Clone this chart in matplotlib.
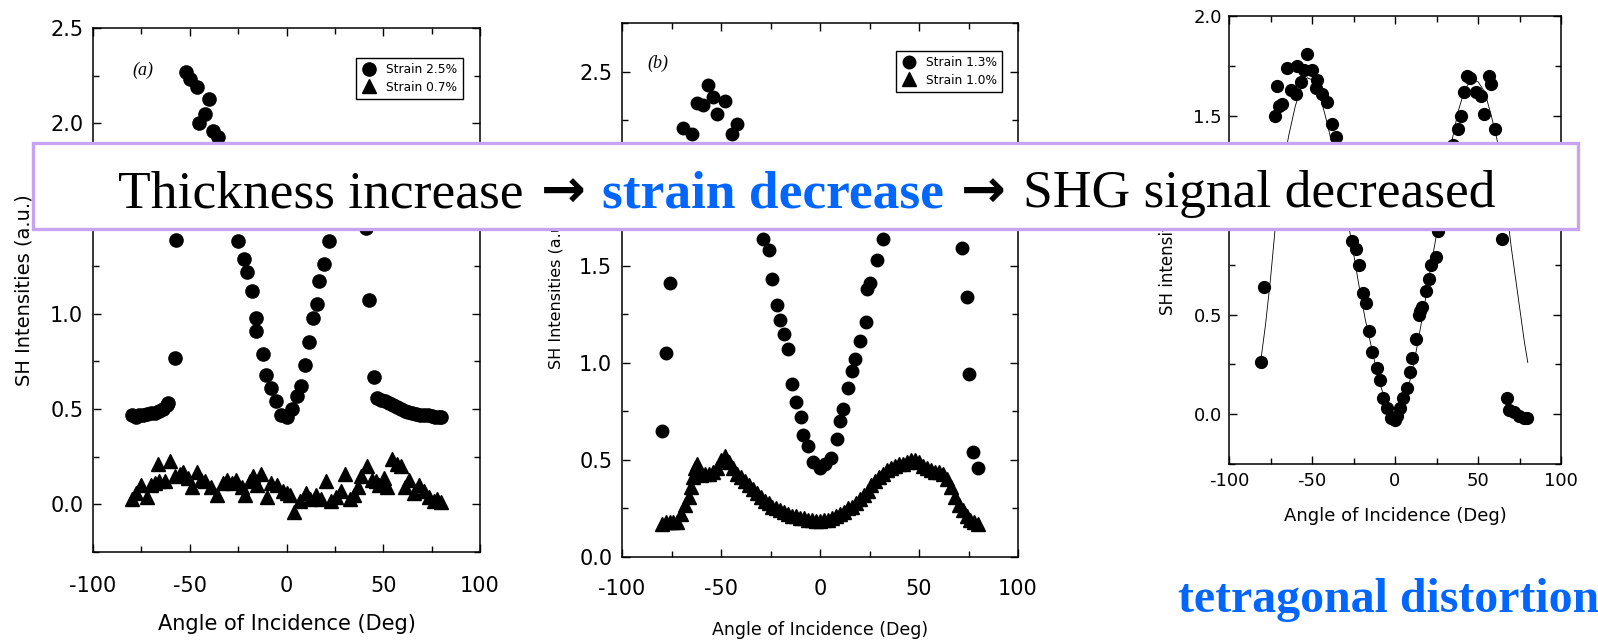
import matplotlib.pyplot as plt
from matplotlib.patches import Rectangle
from matplotlib.ticker import MultipleLocator

plt.rcParams['axes.unicode_minus'] = False

# ---- panel (a): strain 2.5% / 0.7% ----
a_hi_x = [-80, -78, -76, -74, -72, -70, -68, -66, -64, -62, -61, -57.7, -57,
          -52, -50, -46.4, -45, -42, -40, -38, -35.5, -33, -30, -28,
          -25, -22, -20.6, -18, -16, -15.6, -12.3, -10.4, -7.9, -5.3, -2.7, 0,
          3, 5.5, 7.6, 9.8, 11.5, 13.5, 16, 17, 19.6, 21.8, 24, 26,
          41, 42.8, 45.4, 47, 49, 51, 53, 55, 57, 59, 61, 63, 65, 67, 69, 71,
          73, 75, 77, 79, 80]
a_hi_y = [0.47, 0.46, 0.47, 0.47, 0.475, 0.48, 0.48, 0.49, 0.50, 0.52, 0.53, 0.77, 1.39,
          2.27, 2.23, 2.19, 2.00, 2.05, 2.13, 1.96, 1.93, 1.80, 1.65, 1.52,
          1.38, 1.29, 1.22, 1.12, 0.98, 0.91, 0.79, 0.68, 0.61, 0.54, 0.47, 0.46,
          0.50, 0.57, 0.62, 0.73, 0.85, 0.98, 1.05, 1.17, 1.26, 1.38, 1.52, 1.65,
          1.45, 1.07, 0.67, 0.56, 0.55, 0.54, 0.53, 0.52, 0.51, 0.50, 0.49, 0.485, 0.48, 0.475, 0.47, 0.47,
          0.47, 0.465, 0.46, 0.46, 0.46]

a_lo_x = [-80, -78, -75, -72, -70, -68, -66.5, -66, -63, -60, -57.7, -55, -53.6, -51,
          -49, -46.4, -44, -42, -39, -36, -33, -31, -28, -26, -23, -21.6, -19, -17.5,
          -15, -13, -10.3, -8, -5, -2, 0, 2, 4, 7, 10, 12, 15, 18, 20.6, 23, 25.8, 28,
          30, 33, 35, 37, 38.6, 41.7, 44, 46.4, 48, 50.5, 52, 54.6, 57, 59, 61, 63.4,
          66, 68.6, 71, 73.7, 76, 78, 80]
a_lo_y = [0.03, 0.06, 0.10, 0.04, 0.10, 0.11, 0.21, 0.12, 0.12, 0.23, 0.15, 0.16, 0.17, 0.14,
          0.09, 0.17, 0.13, 0.12, 0.09, 0.05, 0.11, 0.13, 0.11, 0.13, 0.09, 0.05, 0.12, 0.15,
          0.10, 0.16, 0.04, 0.11, 0.10, 0.07, 0.06, 0.05, -0.04, 0.02, 0.06, 0.03, 0.05, 0.03, 0.12, 0.02, 0.04, 0.07,
          0.16, 0.03, 0.05, 0.09, 0.15, 0.20, 0.13, 0.12, 0.10, 0.14, 0.09, 0.24, 0.21, 0.20, 0.09, 0.13,
          0.06, 0.10, 0.07, 0.04, 0.02, 0.03, 0.01]

# ---- panel (b): strain 1.3% / 1.0% ----
b_hi_x = [-80, -78, -76, -69, -64.6, -62, -59, -56.5, -54, -52, -48, -44.6, -42,
          -38, -34, -31, -28.8, -26, -24, -21.7, -20, -18, -16, -14.3, -12, -9.6,
          -8.6, -6, -3.5, 0, 2.5, 5.5, 8.6, 10, 11.6, 14, 16, 17.7, 20, 23, 23.6,
          25, 29, 32, 35, 38, 71.7, 74, 75.4, 77.4, 80]
b_hi_y = [0.65, 1.05, 1.41, 2.21, 2.18, 2.34, 2.33, 2.43, 2.37, 2.28, 2.35, 2.18, 2.23,
          2.05, 1.90, 1.75, 1.64, 1.58, 1.43, 1.30, 1.22, 1.15, 1.07, 0.89, 0.80, 0.72,
          0.63, 0.57, 0.49, 0.46, 0.48, 0.51, 0.61, 0.70, 0.76, 0.87, 0.96, 1.02, 1.11, 1.21, 1.38,
          1.41, 1.53, 1.64, 1.80, 1.90, 1.59, 1.34, 0.94, 0.54, 0.46]

b_lo_x = [-80, -78, -76, -74, -72, -70, -68, -66, -65, -64, -63, -62, -61, -60, -58,
          -56, -54, -52, -50, -48, -46, -44, -42, -40, -38, -36, -34, -32, -30, -28,
          -26, -24, -22, -20, -18, -16, -14, -12, -10, -8, -6, -4, -2, 0, 2, 4, 6, 8,
          10, 12, 14, 16, 18, 20, 22, 24, 26, 28, 30, 32, 34, 36, 38, 40, 42, 44, 46,
          48, 50, 52, 54, 56, 58, 60, 62, 64, 66, 68, 70, 72, 74, 76, 78, 80]
b_lo_y = [0.17, 0.18, 0.18, 0.18, 0.18, 0.22, 0.27, 0.31, 0.36, 0.41, 0.46, 0.48, 0.44, 0.42, 0.43,
          0.43, 0.44, 0.46, 0.50, 0.52, 0.49, 0.46, 0.43, 0.41, 0.39, 0.37, 0.35, 0.33, 0.31, 0.29,
          0.28, 0.26, 0.25, 0.24, 0.23, 0.22, 0.21, 0.21, 0.20, 0.20, 0.19, 0.19, 0.185, 0.185, 0.19, 0.19, 0.20, 0.21,
          0.22, 0.23, 0.25, 0.26, 0.28, 0.30, 0.32, 0.34, 0.37, 0.39, 0.41, 0.43, 0.45, 0.46, 0.47, 0.48, 0.48, 0.49, 0.50,
          0.50, 0.49, 0.47, 0.46, 0.45, 0.44, 0.44, 0.43, 0.40, 0.36, 0.31, 0.27, 0.24, 0.21, 0.19, 0.18, 0.17]

# ---- panel (c): measured points and fitted curve ----
c_x = [-80.7, -79, -72, -71, -70, -68, -65, -62.7, -59.6, -59, -56.6, -55, -53, -50,
       -47.6, -47, -44, -41, -38, -35.5, -32, -29, -26, -23.5, -21.7, -19, -17.5,
       -15.7, -13.8, -10.8, -9, -7.2, -4.8, -2.4, 0, 1.2, 3, 4.8, 7.2, 9, 10.2, 12.6,
       14.4, 15, 16, 18.7, 20.5, 21.7, 24.7, 26, 29, 32, 35, 38, 39.8, 41.5, 43.4, 45,
       48.8, 51.8, 53.6, 56.6, 58, 60, 62, 64.5, 67.5, 68.7, 71.7, 74.7, 77.7, 79.5]
c_y = [0.26, 0.64, 1.50, 1.65, 1.55, 1.56, 1.74, 1.63, 1.61, 1.75, 1.67, 1.73, 1.81, 1.73,
       1.64, 1.68, 1.61, 1.57, 1.46, 1.39, 1.20, 1.00, 0.87, 0.83, 0.75, 0.61, 0.56,
       0.42, 0.31, 0.23, 0.17, 0.08, 0.03, -0.02, -0.03, -0.01, 0.03, 0.08, 0.13, 0.21, 0.28, 0.38,
       0.50, 0.52, 0.54, 0.62, 0.68, 0.75, 0.79, 0.92, 1.10, 1.25, 1.35, 1.43, 1.50, 1.62, 1.70, 1.69,
       1.62, 1.60, 1.51, 1.70, 1.66, 1.43, 1.20, 0.88, 0.08, 0.02, 0.01, -0.01, -0.02, -0.02]

fit_x = [-81, -78, -75, -72, -68, -64, -60, -56, -53, -50, -46, -42, -38, -34, -30, -26,
         -22, -18, -14, -10, -6, -3, 0, 3, 6, 10, 14, 18, 22, 26, 30, 34, 38, 42, 46,
         50, 54, 58, 62, 66, 70, 74, 78, 80]
fit_y = [0.26, 0.45, 0.68, 0.95, 1.22, 1.40, 1.55, 1.65, 1.69, 1.68, 1.62, 1.50, 1.36, 1.20, 1.04, 0.86,
         0.66, 0.48, 0.33, 0.18, 0.07, 0.02, 0.0, 0.02, 0.08, 0.20, 0.37, 0.56, 0.76, 0.95, 1.15, 1.36, 1.52, 1.63, 1.68,
         1.67, 1.62, 1.50, 1.36, 1.12, 0.84, 0.60, 0.36, 0.26]

BLUE = '#0066ff'
W, H = 1598, 642

fig = plt.figure(figsize=(W / 100, H / 100), dpi=100)


def style_axes(ax, tick_fs, xpad, ypad):
    for s in ax.spines.values():
        s.set_linewidth(1.1)
    ax.xaxis.set_major_locator(MultipleLocator(50))
    ax.xaxis.set_minor_locator(MultipleLocator(25))
    ax.yaxis.set_major_locator(MultipleLocator(0.5))
    ax.yaxis.set_minor_locator(MultipleLocator(0.25))
    ax.tick_params(which='both', direction='in', top=True, right=True, width=1.0)
    ax.tick_params(which='major', length=6)
    ax.tick_params(which='minor', length=4)
    ax.tick_params(axis='x', which='major', labelsize=tick_fs, pad=xpad)
    ax.tick_params(axis='y', which='major', labelsize=tick_fs, pad=ypad)
    ax.yaxis.set_major_formatter(plt.FuncFormatter(lambda v, p: f'{v:.1f}'))
    ax.set_xlim(-100, 100)


def legend(ax, labels, anchor):
    lg = ax.legend(labels, loc='upper right', bbox_to_anchor=anchor, borderaxespad=0,
                   fancybox=False, edgecolor='black', framealpha=1, fontsize=8.8,
                   handletextpad=0.8, borderpad=0.45, labelspacing=0.35, handlelength=1.2)
    lg.get_frame().set_linewidth(1.0)


# (a)
ax1 = fig.add_axes([93 / W, 1 - 552 / H, 387 / W, 524 / H])
ax1.plot(a_hi_x, a_hi_y, 'o', color='black', ms=9.5)
ax1.plot(a_lo_x, a_lo_y, '^', color='black', ms=10)
style_axes(ax1, 15, 17, 7)
ax1.set_ylim(-0.25, 2.5)
ax1.set_xlabel('Angle of Incidence (Deg)', fontsize=15, labelpad=13)
ax1.set_ylabel('SH Intensities (a.u.)', fontsize=14, labelpad=12)
ax1.text(0.13, 0.92, '(a)', transform=ax1.transAxes, fontsize=13, style='italic',
         family='Liberation Serif', ha='center', va='center')
legend(ax1, ['Strain 2.5%', 'Strain 0.7%'], (0.956, 0.943))

# (b)
ax2 = fig.add_axes([622 / W, 1 - 557 / H, 396 / W, 534 / H])
ax2.plot(b_hi_x, b_hi_y, 'o', color='black', ms=9)
ax2.plot(b_lo_x, b_lo_y, '^', color='black', ms=10)
style_axes(ax2, 15, 16, 7)
ax2.set_ylim(0, 2.75)
ax2.set_xlabel('Angle of Incidence (Deg)', fontsize=12.5, labelpad=16)
ax2.set_ylabel('SH Intensities (a.u.)', fontsize=11.5, labelpad=11)
ax2.text(0.09, 0.925, '(b)', transform=ax2.transAxes, fontsize=13, style='italic',
         family='Liberation Serif', ha='center', va='center')
legend(ax2, ['Strain 1.3%', 'Strain 1.0%'], (0.96, 0.948))

# (c)
ax3 = fig.add_axes([1229 / W, 1 - 464 / H, 332 / W, 448 / H])
ax3.plot(fit_x, fit_y, '-', color='black', lw=0.6)
ax3.plot(c_x, c_y, 'o', color='black', ms=8.5)
style_axes(ax3, 13, 6, 5)
ax3.set_ylim(-0.25, 2.0)
ax3.set_xlabel('Angle of Incidence (Deg)', fontsize=13, labelpad=12)
ax3.set_ylabel('SH intensity (a.u.)', fontsize=12, labelpad=12)

# banner across the three panels
fig.add_artist(Rectangle((33 / W, 1 - 229 / H), (1578 - 33) / W, 86 / H,
                         transform=fig.transFigure, facecolor='white',
                         edgecolor='#c9a3f3', linewidth=2.4, zorder=5))

serif = ['Liberation Serif', 'DejaVu Serif']
pieces = [
    ('Thickness increase', 'black', 'normal', serif),
    ('\u2192', 'black', 'bold', ['DejaVu Sans']),
    ('strain decrease', BLUE, 'bold', serif),
    ('\u2192', 'black', 'bold', ['DejaVu Sans']),
    ('SHG signal decreased', 'black', 'normal', serif),
]
base_y = 1 - 207 / H
texts = [fig.text(0, base_y, s, color=c, fontweight=w, family=f, fontsize=38.5,
                  va='baseline', ha='left', zorder=6)
         for s, c, w, f in pieces]
renderer = fig.canvas.get_renderer()
x = 118.0
gap = 17.0
for t in texts:
    t.set_x(x / W)
    x += t.get_window_extent(renderer).width + gap

fig.text(1178 / W, 1 - 612 / H, 'tetragonal distortion', color=BLUE, fontsize=34.5,
         fontweight='bold', family=serif, ha='left', va='baseline')

fig.savefig('out.png', dpi=100)
